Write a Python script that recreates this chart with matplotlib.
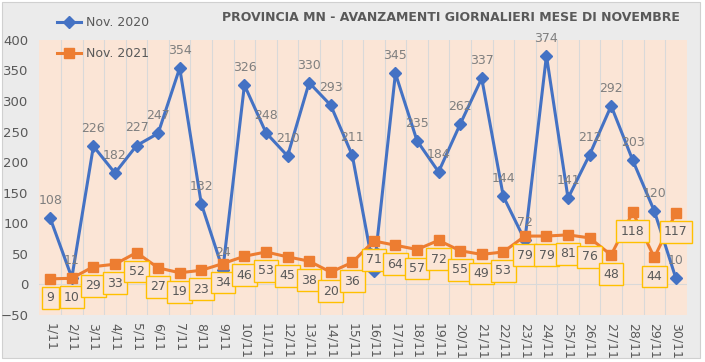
import matplotlib.pyplot as plt
from matplotlib.patches import Rectangle

days = [f"{d}/11" for d in range(1, 31)]
nov_2020 = [108, 11, 226, 182, 227, 247, 354, 132, 24, 326, 248, 210, 330, 293, 211,
            22, 345, 235, 184, 262, 337, 144, 72, 374, 141, 212, 292, 203, 120, 10]
nov_2021 = [9, 10, 29, 33, 52, 27, 19, 23, 34, 46, 53, 45, 38, 20, 36,
            71, 64, 57, 72, 55, 49, 53, 79, 79, 81, 76, 48, 118, 44, 117]
y_ticks = list(range(-50, 401, 50))

plt.rcParams['font.family'] = ['DejaVu Sans']
blue = '#4472c4'
orange = '#ed7d31'
peach = '#fbe5d6'
grey_txt = '#595959'

fig = plt.figure(figsize=(7.05, 3.62), dpi=100, facecolor='white')
fig.patches.append(Rectangle((0.003, 0.012), 0.99, 0.983, transform=fig.transFigure,
                             facecolor='#ebebeb', edgecolor='#d0d0d0', lw=0.8, zorder=-10))

ax = fig.add_axes([0.056, 0.130, 0.918, 0.760])
ax.set_facecolor(peach)
x = list(range(len(days)))

ax.plot(x, nov_2020, color=blue, lw=2.2, marker='D', ms=6, label='Nov. 2020', zorder=3)
ax.plot(x, nov_2021, color=orange, lw=2.2, marker='s', ms=6.5, label='Nov. 2021', zorder=4)

for i, v in enumerate(nov_2020):
    ax.annotate(str(v), (i, v), xytext=(0, 8), textcoords='offset points',
                ha='center', va='bottom', fontsize=9, color='#7f7f7f', zorder=6)
for i, v in enumerate(nov_2021):
    ax.annotate(str(v), (i, v), xytext=(0, -9), textcoords='offset points',
                ha='center', va='top', fontsize=9, color=grey_txt, zorder=6,
                bbox=dict(boxstyle='square,pad=0.35', fc=peach, ec='#ffc000', lw=1))

ax.set_xlim(-0.5, len(days) - 0.5)
ax.set_ylim(-50, 400)
ax.set_yticks(y_ticks)
ax.set_xticks(x)
ax.set_xticklabels(days, rotation=-90, va='top', fontsize=9, color=grey_txt)
ax.tick_params(axis='y', labelsize=9.5, colors=grey_txt, length=0, pad=8)
ax.tick_params(axis='x', length=0, pad=6)
for b in [i + 0.5 for i in x[:-1]]:
    ax.axvline(b, color='#d9d9d9', lw=0.8, zorder=1)
ax.axhline(0, color='#d9d9d9', lw=0.8, zorder=1)
for s in ax.spines.values():
    s.set_visible(False)

fig.text(0.64, 0.952, 'PROVINCIA MN - AVANZAMENTI GIORNALIERI MESE DI NOVEMBRE',
         ha='center', va='center', fontsize=9, fontweight='bold', color='#595959')
fig.legend(loc='upper left', bbox_to_anchor=(57 / 705, 0.955), frameon=False,
           borderpad=0, borderaxespad=0, fontsize=9, labelcolor=grey_txt,
           handlelength=1.9, handletextpad=0.4, labelspacing=1.45)

fig.savefig('out.png', dpi=100, facecolor=fig.get_facecolor())
